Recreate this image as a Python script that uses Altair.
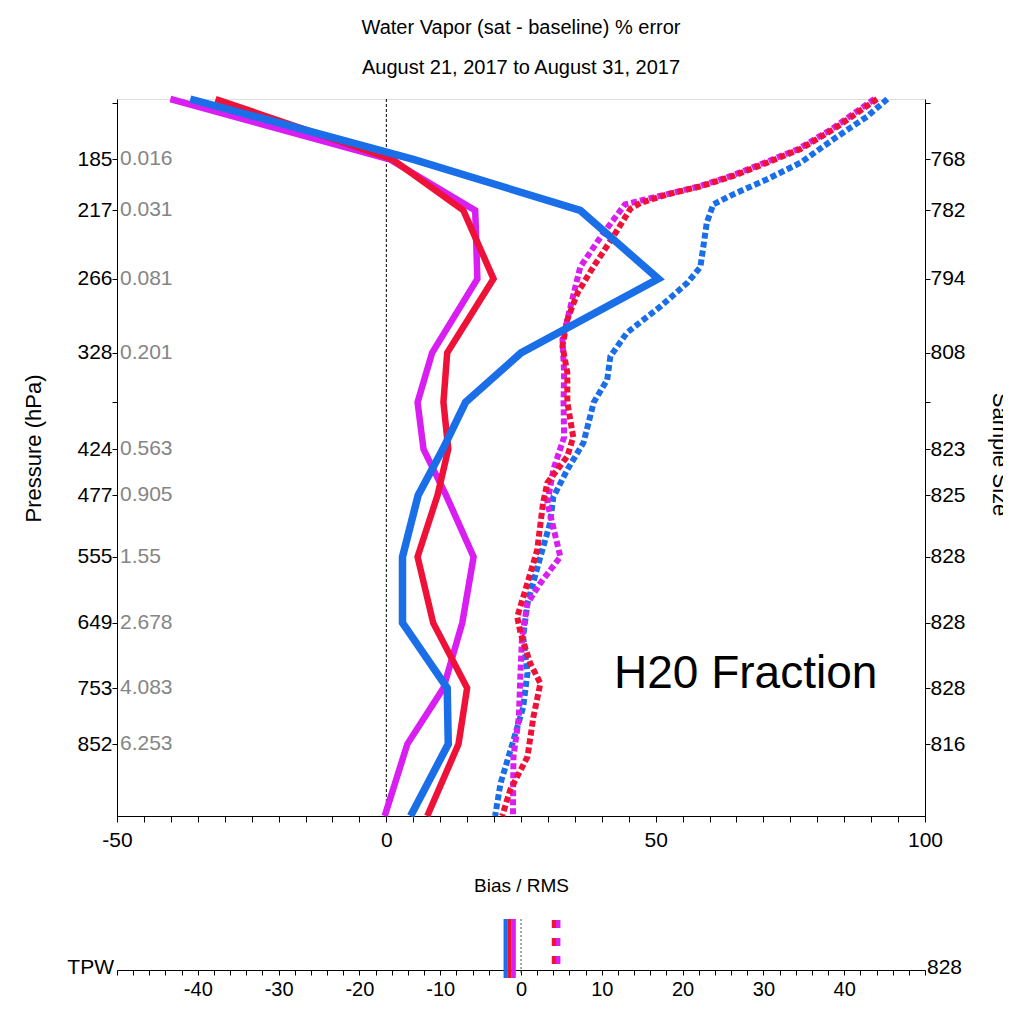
import altair as alt
import pandas as pd

# ---------------- data ----------------
title_lines = ["Water Vapor (sat - baseline) % error", "August 21, 2017  to  August 31, 2017"]
x_title = "Bias / RMS"
y_title = "Pressure (hPa)"
y2_title = "Sample Size"
annotation = "H20 Fraction"

tick_levels = [154, 185, 217, 266, 328, 375, 424, 477, 555, 649, 753, 852]
pressure_labels = ["", "185", "217", "266", "328", "", "424", "477", "555", "649", "753", "852"]
wv_labels = ["", "0.016", "0.031", "0.081", "0.201", "", "0.563", "0.905", "1.55", "2.678", "4.083", "6.253"]
sample_sizes = ["", "768", "782", "794", "808", "", "823", "825", "828", "828", "828", "816"]

bias_p = [152, 185, 217, 266, 328, 375, 424, 477, 555, 649, 753, 852, 993]
bias_red = [-31.7, 1.1, 14.3, 19.9, 11.3, 10.6, 11.5, 9.5, 5.8, 8.7, 15.0, 13.4, 7.6]
bias_magenta = [-40.1, 0.6, 16.5, 16.9, 8.5, 5.8, 6.9, 11.1, 16.2, 14.1, 10.6, 3.9, -0.3]
bias_blue = [-36.4, 5.0, 36.0, 50.5, 25.0, 14.7, 10.5, 5.9, 3.0, 3.0, 11.3, 11.5, 4.5]

rms_red_p = [152, 168, 179, 187, 195, 201.5, 206.5, 212, 216, 235, 257, 277, 299, 322, 346,
             375, 411, 432, 462, 486, 546, 591, 640, 664, 712, 745, 803, 876, 940, 993]
rms_red = [91.1, 83.0, 76.9, 70.7, 64.4, 58.3, 52.2, 47.2, 45.3, 42.1, 38.4, 35.5, 33.6, 32.7, 33.6,
           33.6, 34.7, 33.6, 29.9, 29.1, 28.0, 26.2, 24.3, 24.9, 26.7, 28.6, 27.3, 26.2, 23.0, 21.5]

rms_magenta_p = [152, 168, 179, 187, 195, 201.5, 206.5, 213, 235, 257, 288, 316, 346, 375, 411,
                 447, 486, 546, 555, 591, 620, 670, 728, 803, 876, 993]
rms_magenta = [90.6, 82.6, 76.5, 70.2, 64.0, 58.0, 52.0, 44.3, 39.8, 36.0, 34.2, 32.7, 33.0, 32.9, 33.0,
               31.0, 29.9, 32.0, 32.3, 28.6, 26.2, 25.2, 24.9, 24.6, 23.6, 23.5]

rms_blue_p = [152, 161, 173.5, 187, 197, 206.5, 213, 225, 257, 269, 288, 310, 331, 353, 375,
              417, 447, 479, 511, 555, 620, 670, 728, 786, 845, 927, 993]
rms_blue = [93.0, 89.3, 83.0, 76.9, 70.7, 64.4, 60.7, 59.5, 58.3, 55.9, 50.9, 44.7, 41.6, 41.0, 38.5,
            36.6, 33.6, 31.0, 30.4, 28.6, 26.2, 25.4, 26.2, 25.4, 23.6, 21.2, 20.2]

tpw_label = "TPW"
tpw_count = "828"
tpw_bias_blue, tpw_bias_red, tpw_bias_magenta = -1.9, -1.4, -0.9
tpw_rms_blue, tpw_rms_red, tpw_rms_magenta = 4.1, 4.1, 4.6

RED = "#ee1238"
MAGENTA = "#d81ef0"
BLUE = "#1a6ee8"
FONT = "Liberation Sans, Arial, sans-serif"

# ---------------- scales / axes ----------------
xscale = alt.Scale(domain=[-50, 100], nice=False, zero=False)
yscale = alt.Scale(type="pow", exponent=0.25, domain=[152, 993], reverse=True, nice=False, zero=False)
tpwscale = alt.Scale(domain=[-50, 50], nice=False, zero=False)


def chain(vals, labels):
    expr = "''"
    for v, l in reversed(list(zip(vals, labels))):
        expr = f"datum.value == {v} ? '{l}' : ({expr})"
    return expr


x_axis = alt.Axis(
    orient="bottom", values=list(range(-50, 101, 5)),
    labelExpr="datum.value % 50 == 0 ? '' + datum.value : ''",
    tickSize=6, labelPadding=7, labelFont=FONT, labelFontSize=21, labelColor="black",
    title=x_title, titleFont=FONT, titleFontSize=19, titleFontWeight="normal",
    titleY=69, titleBaseline="middle", titleColor="black",
    domainColor="black", tickColor="black", grid=False, labelFlush=False,
)
left_axis = alt.Axis(
    orient="left", values=tick_levels, labelExpr=chain(tick_levels, pressure_labels),
    tickSize=5, labelPadding=0, labelFont=FONT, labelFontSize=21, labelColor="black",
    title=y_title, titleFont=FONT, titleFontSize=22, titleFontWeight="normal",
    titleX=-84, titleY=349, titleAngle=270, titleBaseline="middle", titleColor="black",
    domainColor="black", tickColor="black", grid=False,
)
right_axis = alt.Axis(
    orient="right", values=tick_levels, labelExpr=chain(tick_levels, sample_sizes),
    tickSize=5, labelPadding=0, labelFont=FONT, labelFontSize=21, labelColor="black",
    title=y2_title, titleFont=FONT, titleFontSize=22, titleFontWeight="normal",
    titleX=74, titleY=355, titleAngle=90, titleBaseline="middle", titleColor="black",
    domainColor="black", tickColor="black", grid=False,
)
tpw_axis = alt.Axis(
    orient="bottom", offset=154, values=list(range(-50, 51, 2)),
    labelExpr="abs(datum.value) < 50 && datum.value % 10 == 0 ? '' + datum.value : ''",
    tickSize=5, labelPadding=4, labelFont=FONT, labelFontSize=20, labelColor="black",
    title=None, domainColor="black", tickColor="black", grid=False, labelFlush=False,
)


def prof(p, v, color, dashed, width):
    df = pd.DataFrame({"p": p, "v": v})
    if dashed:
        m = alt.Chart(df).mark_line(color=color, strokeWidth=width, strokeDash=[6, 3], strokeCap="butt")
    else:
        m = alt.Chart(df).mark_line(color=color, strokeWidth=width)
    return m.encode(
        x=alt.X("v:Q", scale=xscale, axis=None),
        y=alt.Y("p:Q", scale=yscale, axis=None),
        order=alt.Order("p:Q"),
    )


zero_line = alt.Chart(pd.DataFrame({"z": [0]})).mark_rule(
    color="black", strokeWidth=1, strokeDash=[3, 2]
).encode(x=alt.X("z:Q", scale=xscale, axis=x_axis))

labels_df = pd.DataFrame({"p": tick_levels, "wv": wv_labels, "ss": sample_sizes})
wv_text = alt.Chart(labels_df).mark_text(
    align="left", baseline="middle", font=FONT, fontSize=21, color="#858585"
).encode(x=alt.value(3), y=alt.Y("p:Q", scale=yscale, axis=left_axis), text="wv:N")

right_ax_layer = alt.Chart(labels_df).mark_point(opacity=0).encode(
    x=alt.value(0), y=alt.Y("p:Q", scale=yscale, axis=right_axis)
)

annot = alt.Chart(pd.DataFrame({"t": [annotation]})).mark_text(
    align="left", baseline="alphabetic", font=FONT, fontSize=46, color="black"
).encode(x=alt.value(497), y=alt.value(589), text="t:N")

# ---------------- TPW panel ----------------
tpw_df = pd.DataFrame({
    "series": ["blue", "red", "magenta"],
    "bias": [tpw_bias_blue, tpw_bias_red, tpw_bias_magenta],
    "rms": [tpw_rms_blue, tpw_rms_red, tpw_rms_magenta],
})


def tpw_rule(series, field, color, dashed):
    d = tpw_df[tpw_df["series"] == series]
    if dashed:
        m = alt.Chart(d).mark_rule(color=color, strokeWidth=4.5, strokeDash=[8, 10])
        yv, y2v = 821, 867
    else:
        m = alt.Chart(d).mark_rule(color=color, strokeWidth=4.2)
        yv, y2v = 820, 879
    return m.encode(x=alt.X(f"{field}:Q", scale=tpwscale, axis=None), y=alt.value(yv), y2=alt.value(y2v))


tpw_zero = alt.Chart(pd.DataFrame({"z": [0]})).mark_rule(
    color="#555555", strokeWidth=1, strokeDash=[2, 2]
).encode(x=alt.X("z:Q", scale=tpwscale, axis=tpw_axis), y=alt.value(820), y2=alt.value(876))

tpw_left = alt.Chart(pd.DataFrame({"t": [tpw_label]})).mark_text(
    align="right", baseline="middle", font=FONT, fontSize=21, color="black"
).encode(x=alt.value(-3), y=alt.value(869), text="t:N")
tpw_right = alt.Chart(pd.DataFrame({"t": [tpw_count]})).mark_text(
    align="left", baseline="middle", font=FONT, fontSize=21, color="black"
).encode(x=alt.value(810), y=alt.value(869), text="t:N")

chart = alt.layer(
    zero_line,
    prof(rms_blue_p, rms_blue, BLUE, True, 6),
    prof(rms_magenta_p, rms_magenta, MAGENTA, True, 6),
    prof(rms_red_p, rms_red, RED, True, 6),
    prof(bias_p, bias_magenta, MAGENTA, False, 6.5),
    prof(bias_p, bias_red, RED, False, 6.5),
    prof(bias_p, bias_blue, BLUE, False, 7.5),
    wv_text,
    right_ax_layer,
    annot,
    tpw_zero,
    tpw_rule("blue", "rms", BLUE, True),
    tpw_rule("red", "rms", RED, True),
    tpw_rule("magenta", "rms", MAGENTA, True),
    tpw_rule("blue", "bias", BLUE, False),
    tpw_rule("red", "bias", RED, False),
    tpw_rule("magenta", "bias", MAGENTA, False),
    tpw_left,
    tpw_right,
).resolve_scale(x="independent").resolve_axis(y="independent").properties(
    width=808,
    height=717,
    autosize=alt.AutoSizeParams(type="none"),
    padding={"left": 109, "top": 91, "right": 78, "bottom": 184},
    title=alt.TitleParams(
        text=title_lines, font=FONT, fontSize=20, fontWeight="normal", lineHeight=40,
        anchor="middle", color="black", offset=6,
    ),
).configure_view(stroke="#222222", strokeWidth=1.5).configure(background="white")

chart.save("out.html", embed_options={"renderer": "svg", "actions": False})
